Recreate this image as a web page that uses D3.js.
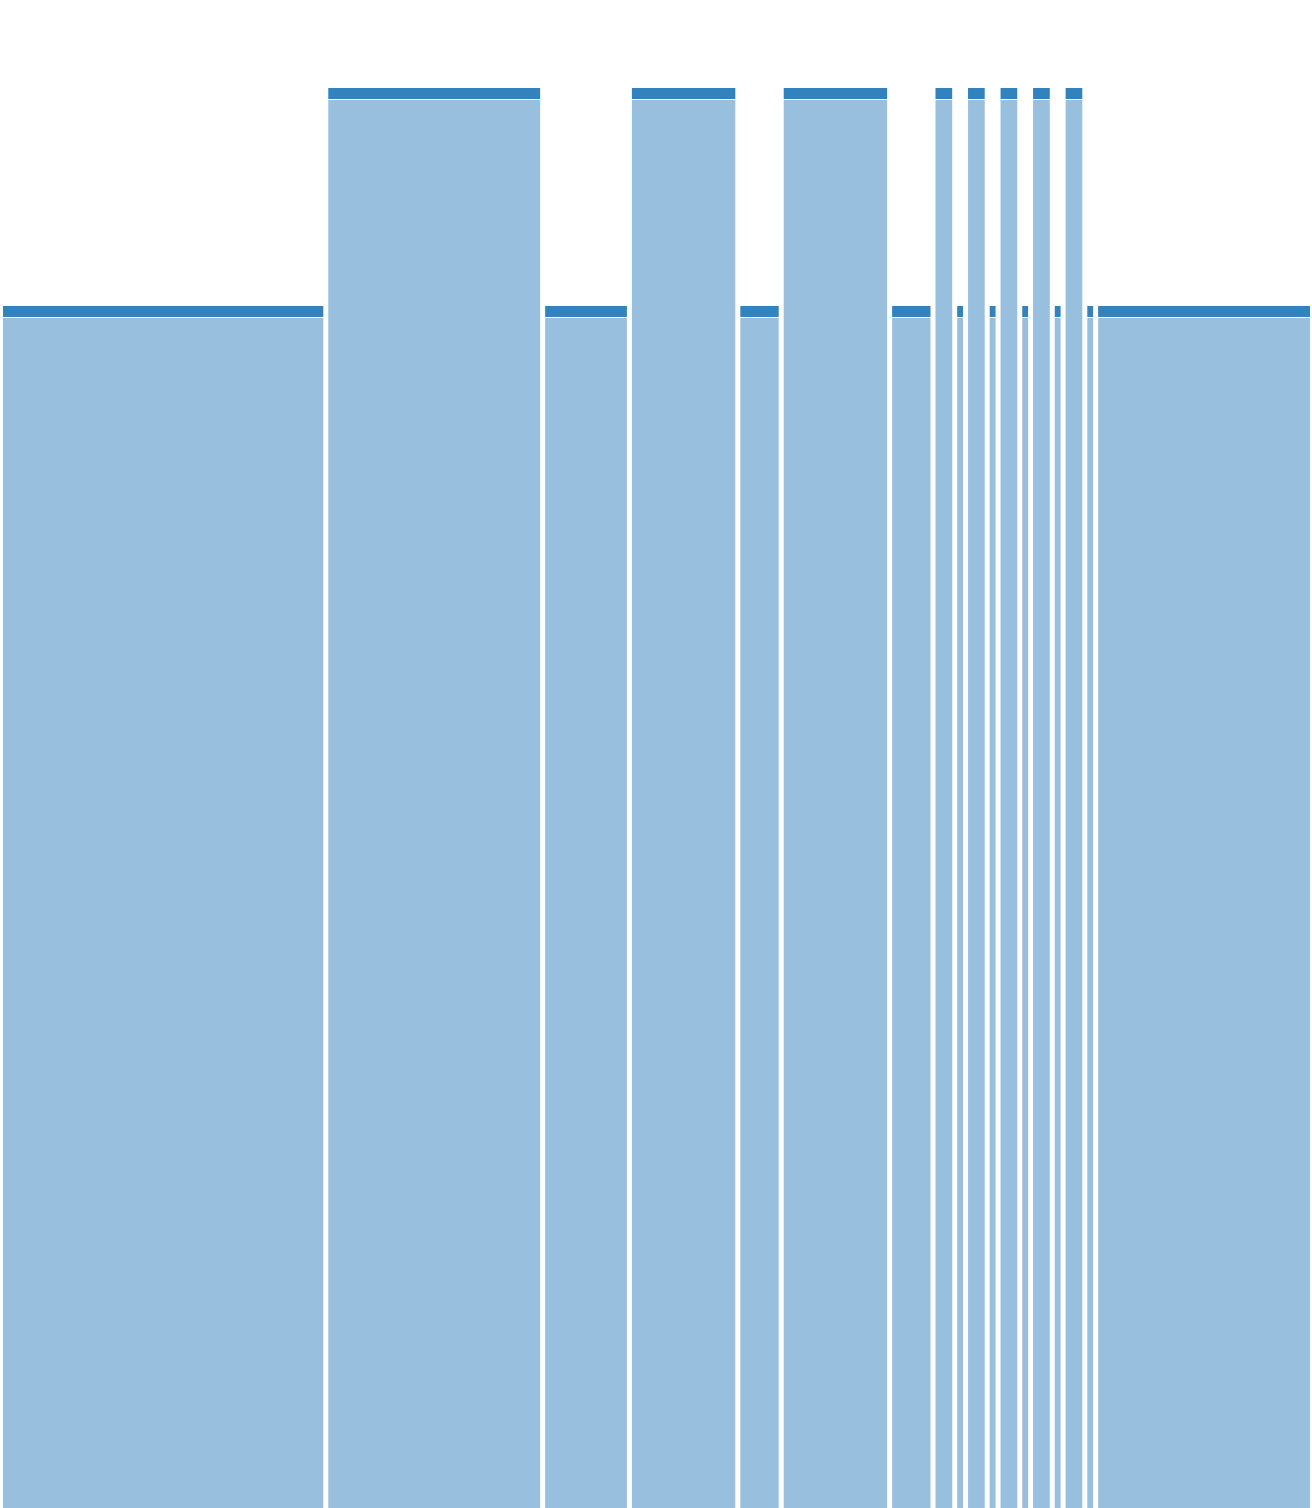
<!DOCTYPE html>
<html>
<head>
<meta charset="utf-8">
<script src="https://cdn.jsdelivr.net/npm/d3@7"></script>
<style>
  html, body { margin: 0; padding: 0; background: #fff; }
  svg { display: block; }
</style>
</head>
<body>
<svg id="chart"></svg>
<script>
// ── Data: column weights (widths) and heights ──
const weights = [30, 20, 8, 10, 4, 10, 4, 2, 1, 2, 1, 2, 1, 2, 1, 2, 1, 20];
const heights = [84.65, 100, 84.65, 100, 84.65, 100, 84.65, 100, 84.65, 100, 84.65, 100, 84.65, 100, 84.65, 100, 84.65, 84.65];

// ── Dimensions ──
const width = 1312;
const height = 1508;
const marginTop = 88;
const headerH = 11;
const pad = 5;
const color = "#3182bd";

const svg = d3.select("#chart")
  .attr("width", width)
  .attr("height", height)
  .attr("viewBox", `0 0 ${width} ${height}`);

// cumulative start of each column
const starts = d3.cumsum([0, ...weights.slice(0, -1)]);
const cols = weights.map((w, i) => ({ x0: starts[i], x1: starts[i] + w, v: heights[i] }));

const x = d3.scaleLinear()
  .domain([0, d3.sum(weights)])
  .range([0, width]);

const y = d3.scaleLinear()
  .domain([0, 100])
  .range([height, marginTop]);

const g = svg.selectAll(".col")
  .data(cols)
  .join("g")
  .attr("class", "col")
  .attr("transform", d => `translate(${x(d.x0) + 3},0)`);

// header stripe
g.append("rect")
  .attr("y", d => y(d.v))
  .attr("width", d => x(d.x1) - x(d.x0) - pad)
  .attr("height", headerH)
  .attr("fill", color);

// body
g.append("rect")
  .attr("y", d => y(d.v) + headerH + 1)
  .attr("width", d => x(d.x1) - x(d.x0) - pad)
  .attr("height", d => height - y(d.v) - headerH - 1)
  .attr("fill", color)
  .attr("fill-opacity", 0.5);
</script>
</body>
</html>
